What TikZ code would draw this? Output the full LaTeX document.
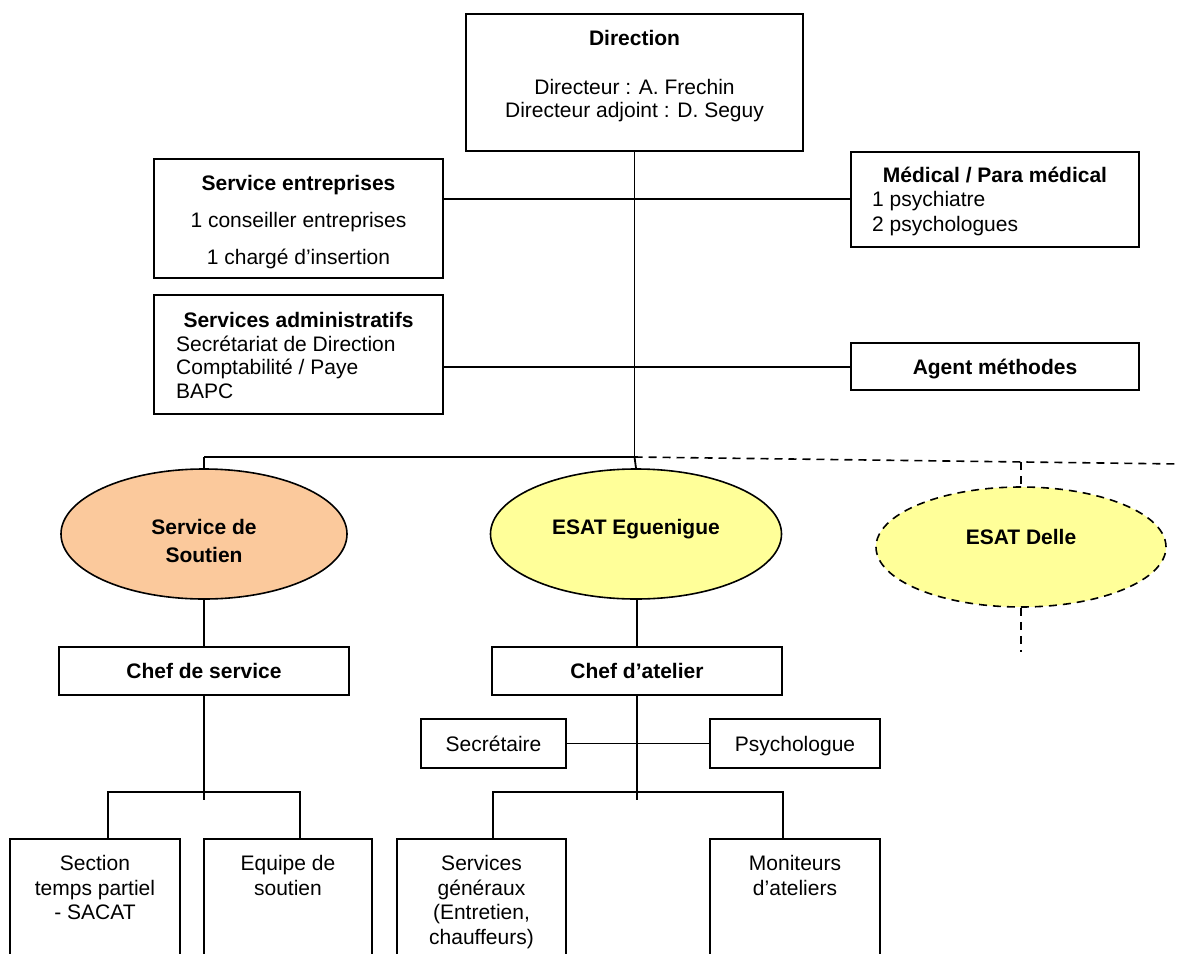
\documentclass[tikz,border=0pt]{standalone}
\usepackage{fontspec}
\setmainfont{Liberation Sans}
\usetikzlibrary{shapes.geometric}
\newcommand\fs{\fontsize{21}{24}\selectfont}
\definecolor{orangefill}{HTML}{FBC99C}
\definecolor{yellowfill}{HTML}{FFFF99}
\tikzset{
  ln/.style={line width=1.8pt},
  dln/.style={line width=1.6pt, dash pattern=on 8pt off 6pt},
  box/.style={draw, line width=1.8pt, inner sep=0pt, font=\fs, text height=15.3pt, text depth=0pt, align=center},
  oval/.style={draw, ellipse, line width=1.6pt, inner sep=0pt},
  txt/.style={inner sep=0pt, font=\fs, anchor=base},
}
\begin{document}
\begin{tikzpicture}[x=1pt,y=-1pt]
\useasboundingbox (0,0) rectangle (1180,953);
\clip (0,0) rectangle (1180,953);
\fill[white] (0,0) rectangle (1180,953);

% top boxes
\node[box, minimum width=337pt, minimum height=137pt] (dir) at (634.5,82.5) {};
\node[txt] (dirt1) at (634.5,45.5) {\bfseries Direction};
\node[txt] (dirt2) at (634.5,94.5) {Directeur : A. Frechin};
\node[txt] (dirt3) at (634.5,117.5) {Directeur adjoint : D. Seguy};

\node[box, minimum width=289pt, minimum height=119pt] (se) at (298.5,218.5) {};
\node[txt] (set1) at (298.5,190.5) {\bfseries Service entreprises};
\node[txt] (set2) at (298.5,227.5) {1 conseiller entreprises};
\node[txt] (set3) at (298.5,264.5) {1 chargé d’insertion};

\node[box, minimum width=289pt, minimum height=119pt] (sa) at (298.5,354.5) {};
\node[txt] (sat1) at (298.5,327.5) {\bfseries Services administratifs};
\node[txt, anchor=base west] (sat2) at (176,351.5) {Secrétariat de Direction};
\node[txt, anchor=base west] (sat3) at (176,374.5) {Comptabilité / Paye};
\node[txt, anchor=base west] (sat4) at (176,398.5) {BAPC};

\node[box, minimum width=288pt, minimum height=95pt] (med) at (995,199.5) {};
\node[txt] (medt1) at (995,182.5) {\bfseries Médical / Para médical};
\node[txt, anchor=base west] (medt2) at (872,206.5) {1 psychiatre};
\node[txt, anchor=base west] (medt3) at (872,231.5) {2 psychologues};

\node[box, minimum width=288pt, minimum height=47pt] (am) at (995,366.5) {\bfseries Agent méthodes};

% trunk
\coordinate (j0) at (dir.south |- 0,457);
\coordinate (jse) at (dir.south |- 0,199);
\coordinate (jsa) at (dir.south |- 0,367);
\draw[ln] (dir.south) -- (j0);
\draw[ln] (se.east |- jse) -- (jse) -- (med.west |- jse);
\draw[ln] (sa.east |- jsa) -- (jsa) -- (am.west |- jsa);

% ellipses
\node[oval, fill=orangefill, minimum width=286pt, minimum height=130pt] (sou) at (204,534) {};
\node[txt] (sout1) at (204,534.5) {\bfseries Service de};
\node[txt] (sout2) at (204,562.5) {\bfseries Soutien};
\node[oval, fill=yellowfill, minimum width=291pt, minimum height=130pt] (eg) at (636,534) {};
\node[txt] (egt) at (636,534) {\bfseries ESAT Eguenigue};
\node[oval, dln, fill=yellowfill, minimum width=290pt, minimum height=120pt] (de) at (1021,547) {};
\node[txt] (det) at (1021,544) {\bfseries ESAT Delle};

\coordinate (jl) at (sou.north |- j0);
\coordinate (jr) at (1180,464);
\coordinate (jd) at (de.north |- 0,462);
\coordinate (dend) at (1021,652);
\draw[ln] (jl) -- (j0);
\draw[ln] (jl) -- (sou.north);
\draw[ln] (j0) -- (eg.north);
\draw[dln] (j0) -- (jr);
\draw[dln] (jd) -- (de.north);
\draw[dln] (de.south) -- (dend);

% chefs
\node[box, minimum width=290pt, minimum height=48pt] (cds) at (204,671) {\bfseries Chef de service};
\node[box, minimum width=290pt, minimum height=48pt] (cda) at (637,671) {\bfseries Chef d’atelier};
\draw[ln] (sou.south) -- (cds.north);
\draw[ln] (eg.south -| cda.north) -- (cda.north);

% left subtree
\node[box, minimum width=170pt, minimum height=136pt] (sec) at (95,907) {};
\node[txt] (sect1) at (95,870.5) {Section};
\node[txt] (sect2) at (95,895) {temps partiel};
\node[txt] (sect3) at (95,919.5) {- SACAT};
\node[box, minimum width=168pt, minimum height=136pt] (equ) at (288,907) {};
\node[txt] (equt1) at (288,870.5) {Equipe de};
\node[txt] (equt2) at (288,895) {soutien};
\coordinate (cdsend) at (cds.south |- 0,800);
\coordinate (bl1) at (108,792);
\coordinate (bl2) at (300,792);
\draw[ln] (cds.south) -- (cdsend);
\draw[ln] (bl1 |- sec.north) -- (bl1) -- (bl2) -- (bl2 |- equ.north);

% right subtree
\node[box, minimum width=145pt, minimum height=49pt] (secr) at (493.5,743.5) {Secrétaire};
\node[box, minimum width=170pt, minimum height=49pt] (psy) at (795,743.5) {Psychologue};
\draw[ln] (secr.east) -- (psy.west);
\node[box, minimum width=169pt, minimum height=136pt] (sg) at (481.5,907) {};
\node[txt] (sgt1) at (481.5,870.5) {Services};
\node[txt] (sgt2) at (481.5,895) {généraux};
\node[txt] (sgt3) at (481.5,919.5) {(Entretien,};
\node[txt] (sgt4) at (481.5,944) {chauffeurs)};
\node[box, minimum width=170pt, minimum height=136pt] (mon) at (795,907) {};
\node[txt] (mont1) at (795,870.5) {Moniteurs};
\node[txt] (mont2) at (795,895) {d’ateliers};
\coordinate (cdaend) at (cda.south |- 0,800);
\coordinate (br1) at (493,792);
\coordinate (br2) at (783,792);
\draw[ln] (cda.south) -- (cdaend);
\draw[ln] (br1 |- sg.north) -- (br1) -- (br2) -- (br2 |- mon.north);
\end{tikzpicture}
\end{document}
